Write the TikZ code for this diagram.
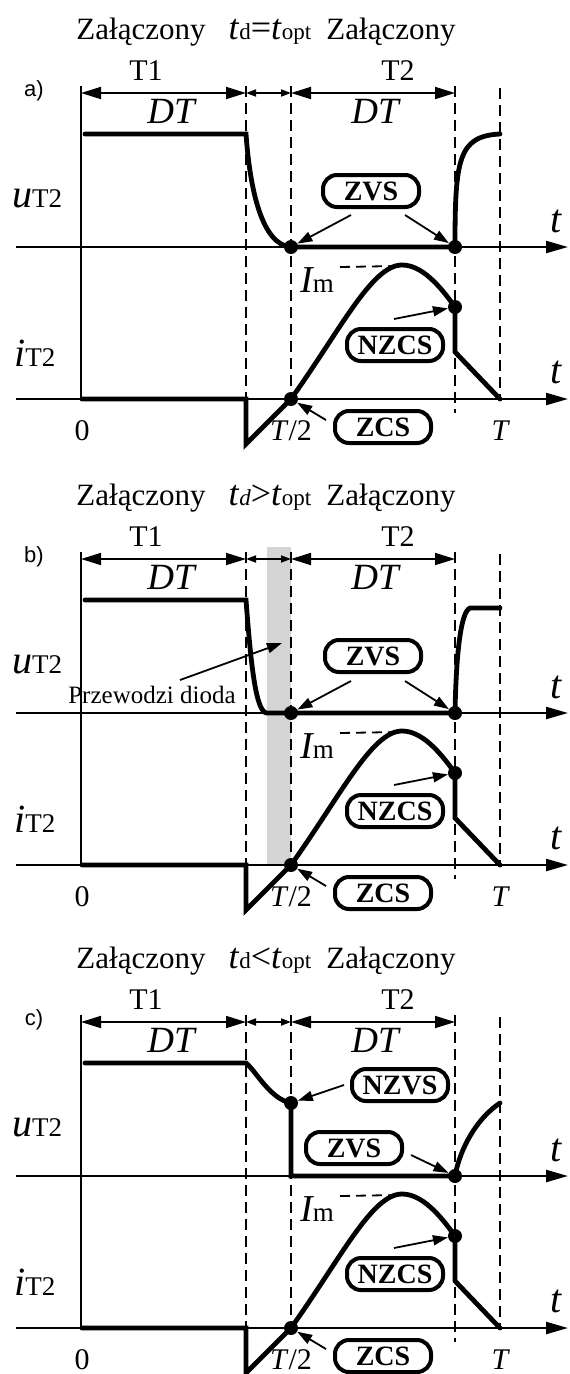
\documentclass[tikz,border=0pt]{standalone}
\usepackage{fontspec}
\setmainfont{Liberation Serif}
\newfontfamily\sansf{Liberation Sans}
\usetikzlibrary{arrows.meta}
\newcommand\fs[1]{\fontsize{#1}{#1}\selectfont}
\definecolor{bargray}{RGB}{212,212,212}
\tikzset{
  hdr/.style={inner sep=0pt, font=\fs{31}},
  tlab/.style={inner sep=0pt, font=\fs{30}},
  plab/.style={inner sep=0pt, font=\sansf\fs{22}},
  biglab/.style={inner sep=0pt, anchor=base},
  axisln/.style={line width=2.2pt, -{Triangle[length=22pt,width=12pt]}},
  vaxis/.style={line width=2pt},
  wave/.style={line width=4.8pt, line cap=round},
  dashln/.style={line width=1.8pt, dash pattern=on 11pt off 6pt},
  imdash/.style={line width=1.8pt, dash pattern=on 10pt off 6pt},
  dimbig/.style={line width=1.8pt, {Triangle[length=20pt,width=12pt]}-{Triangle[length=20pt,width=12pt]}},
  dimsmall/.style={line width=1.8pt, {Triangle[length=10pt,width=7pt]}-{Triangle[length=10pt,width=7pt]}},
  pill/.style={draw, fill=white, line width=4pt, rounded corners=14pt, minimum width=96pt, minimum height=32pt, inner sep=0pt, font=\fs{28}\bfseries},
  pointer/.style={line width=1.8pt, -{Triangle[length=15pt,width=10pt]}},
  dot/.style={circle, fill=black, inner sep=0pt, minimum size=14pt},
}
\newcommand\tdsub[1]{{\fs{23}#1}}
\newcommand\panelcommon[3]{%
  \node[hdr, anchor=base] (#1hA) at (141,39) {Załączony};
  \node[hdr, anchor=base, font=\fs{36}] (#1hB) at (270,39) {#3};
  \node[hdr, anchor=base] (#1hC) at (391,39) {Załączony};
  \node[tlab, anchor=base] (#1tA) at (146,80) {T1};
  \node[tlab, anchor=base] (#1tB) at (398,80) {T2};
  \node[plab] (#1lab) at (34,91) {#2};
  % vertical axis
  \coordinate (#1va) at (81,86); \coordinate (#1vb) at (81,399);
  \draw[vaxis] (#1va) -- (#1vb);
  % dashed guides
  \coordinate (#1g1a) at (246,86); \coordinate (#1g1b) at (246,399);
  \coordinate (#1g2a) at (291,86); \coordinate (#1g2b) at (291,399);
  \coordinate (#1g3a) at (455,86); \coordinate (#1g3b) at (455,413);
  \coordinate (#1g4a) at (500,88); \coordinate (#1g4b) at (500,399);
  \draw[dashln] (#1g1a) -- (#1g1b);
  \draw[dashln] (#1g2a) -- (#1g2b);
  \draw[dashln] (#1g3a) -- (#1g3b);
  \draw[dashln] (#1g4a) -- (#1g4b);
  % dimension arrows
  \coordinate (#1m0) at (81,93); \coordinate (#1m1) at (246,93);
  \coordinate (#1m2) at (291,93); \coordinate (#1m3) at (455,93);
  \draw[dimbig] (#1m0) -- (#1m1);
  \draw[dimsmall] (#1m1) -- (#1m2);
  \draw[dimbig] (#1m2) -- (#1m3);
  \node[biglab, font=\fs{37}\itshape] (#1dtA) at (171,123) {DT};
  \node[biglab, font=\fs{37}\itshape] (#1dtB) at (375,123) {DT};
  % axes
  \coordinate (#1ua) at (16,247); \coordinate (#1ub) at (568,247);
  \coordinate (#1ia) at (16,399); \coordinate (#1ib) at (568,399);
  \draw[axisln] (#1ua) -- (#1ub);
  \draw[axisln] (#1ia) -- (#1ib);
  % labels
  \node[inner sep=0pt, anchor=base west] (#1ul) at (12,207) {\fs{40}\itshape u\upshape\fs{27}T2};
  \node[inner sep=0pt, anchor=base west] (#1il) at (14,366) {\fs{40}\itshape i\upshape\fs{27}T2};
  \node[biglab, font=\fs{40}\itshape] (#1tu) at (556,232) {t};
  \node[biglab, font=\fs{40}\itshape] (#1ti) at (556,383) {t};
  \node[biglab, font=\fs{30}] (#1zero) at (82,440) {0};
  \node[biglab, font=\fs{30}] (#1half) at (291,440) {\textit{T}/2};
  \node[biglab, font=\fs{30}\itshape] (#1per) at (500,440) {T};
  % current waveform
  \draw[wave] (82,399) -- (246,399) -- (246,444) -- (291,399)
     .. controls (341,329) and (372,265) .. (402,265)
     .. controls (422,265) and (440,286) .. (455,307) -- (455,352) -- (500,399);
  \node[dot] (#1iz) at (291,399) {};
  \node[dot] (#1in) at (455,307) {};
  \node[inner sep=0pt, anchor=base west] (#1im) at (300,292) {\fs{38}\itshape I\upshape\fs{27}m};
  \coordinate (#1ima) at (340,267); \coordinate (#1imb) at (398,266);
  \draw[imdash] (#1ima) -- (#1imb);
  \node[pill] (#1nzcs) at (395,345) {NZCS};
  \coordinate (#1nzp) at (394,319);
  \draw[pointer] (#1nzp) -- (#1in);
  \node[pill] (#1zcs) at (383,427) {ZCS};
  \coordinate (#1zcp) at (326,420);
  \draw[pointer] (#1zcp) -- (#1iz);
}
\begin{document}
\begin{tikzpicture}[x=1pt,y=-1pt]
\useasboundingbox (0,0) rectangle (570,1374);
% ---------- panel a
\begin{scope}
  \panelcommon{a}{a)}{\textit{t}\tdsub{d}=\textit{t}\tdsub{opt}}
  \draw[wave] (85,134) -- (246,134) .. controls (250,190) and (262,245) .. (291,247)
     -- (455,247) .. controls (455,160) and (458,136) .. (500,134);
  \node[dot] (auz) at (291,247) {};
  \node[dot] (aun) at (455,247) {};
  \node[pill] (azvs) at (371,191) {ZVS};
  \coordinate (azl) at (351,215); \coordinate (azr) at (405,215);
  \draw[pointer] (azl) -- (auz);
  \draw[pointer] (azr) -- (aun);
\end{scope}
% ---------- panel b
\begin{scope}[yshift=-466pt]
  \fill[bargray] (267,81) rectangle (291,398);
  \panelcommon{b}{b)}{\textit{t}\tdsub{\itshape d}>\textit{t}\tdsub{opt}}
  \draw[wave] (85,134) -- (246,134) .. controls (251,200) and (256,247) .. (267,247)
     -- (455,247) .. controls (456,194) and (460,146) .. (470,142) -- (500,142);
  \node[dot] (buz) at (291,247) {};
  \node[dot] (bun) at (455,247) {};
  \node[pill] (bzvs) at (373,190) {ZVS};
  \coordinate (bzl) at (351,215); \coordinate (bzr) at (405,215);
  \draw[pointer] (bzl) -- (buz);
  \draw[pointer] (bzr) -- (bun);
  \node[biglab, font=\fs{25}] (bdio) at (152,237) {Przewodzi dioda};
  \coordinate (bdioa) at (180,214); \coordinate (bdiob) at (282,177);
  \draw[pointer] (bdioa) -- (bdiob);
\end{scope}
% ---------- panel c
\begin{scope}[yshift=-929pt]
  \panelcommon{c}{c)}{\textit{t}\tdsub{d}<\textit{t}\tdsub{opt}}
  \draw[wave] (85,134) -- (246,134) .. controls (256,142) and (270,170) .. (291,174)
     -- (291,247) -- (455,247) .. controls (460,220) and (476,190) .. (500,174);
  \node[dot] (cuz) at (291,174) {};
  \node[dot] (cun) at (455,247) {};
  \node[pill] (cnzvs) at (400,156) {NZVS};
  \coordinate (cnzl) at (344,156);
  \draw[pointer] (cnzl) -- (cuz);
  \node[pill] (czvs) at (354,219) {ZVS};
  \coordinate (czr) at (411,226);
  \draw[pointer] (czr) -- (cun);
\end{scope}
\end{tikzpicture}
\end{document}
